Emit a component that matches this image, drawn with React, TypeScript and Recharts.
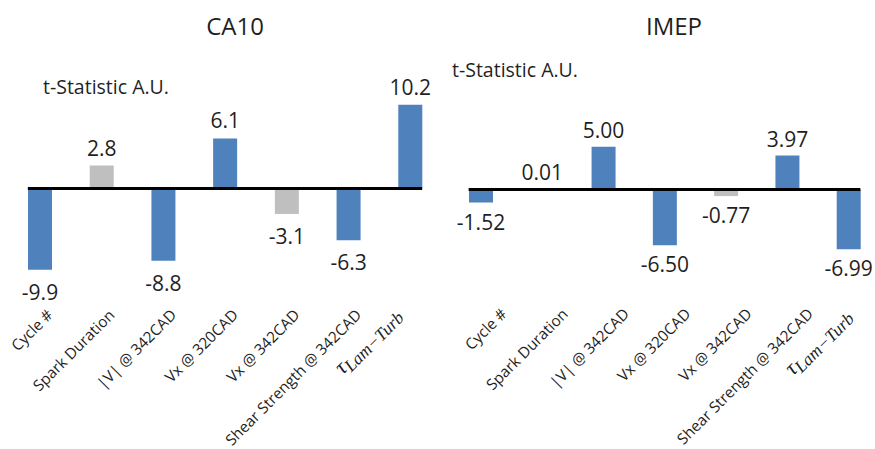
import React from 'react';
import { BarChart, Bar, XAxis, YAxis, Cell, LabelList, ReferenceLine } from 'recharts';

const categories = [
  'Cycle #',
  'Spark Duration',
  '|V| @ 342CAD',
  'Vx @ 320CAD',
  'Vx @ 342CAD',
  'Shear Strength @ 342CAD',
  'τLam−Turb',
];
const ca10Values = [-9.9, 2.8, -8.8, 6.1, -3.1, -6.3, 10.2];
const imepValues = [-1.52, 0.01, 5.0, -6.5, -0.77, 3.97, -6.99];
const ca10Significant = [true, false, true, true, false, true, true];
const imepSignificant = [true, false, true, true, false, true, true];
const chartTitles = ['CA10', 'IMEP'];
const axisTitle = 't-Statistic A.U.';

const FONT = "'Open Sans', sans-serif";
const BLUE = '#4F81BD';
const GRAY = '#BFBFBF';
const TEXT = '#1f1f1f';
const BAR_SIZE = 24;

const buildData = (values: number[], significant: boolean[]) =>
  categories.map((name, i) => ({ name, value: values[i], significant: significant[i] }));

const ca10Data = buildData(ca10Values, ca10Significant);
const imepData = buildData(imepValues, imepSignificant);

const makeTick = (dx: number, dy: number, tauDx: number, tauDy: number) => (props: any) => {
  const { x, y, payload } = props;
  const label: string = String(payload.value);
  const isTau = label.startsWith('τ');
  const ax = x + dx + (isTau ? tauDx : 0);
  const ay = y + dy + (isTau ? tauDy : 0);
  return (
    <text
      x={ax}
      y={ay}
      transform={`rotate(-45 ${ax} ${ay})`}
      textAnchor="end"
      fontFamily={FONT}
      fontSize={15.3}
      fill={TEXT}
    >
      {isTau ? (
        <>
          <tspan fontFamily="'Liberation Serif', serif" fontStyle="italic" fontSize={22}>
            τ
          </tspan>
          <tspan fontFamily="'Liberation Serif', serif" fontStyle="italic" fontSize={17.5} dy={4}>
            {label.slice(1)}
          </tspan>
        </>
      ) : (
        label
      )}
    </text>
  );
};

const makeValueLabel = (decimals: number, negOffset: number, posOffset: number) => (props: any) => {
  const { x, y, width, height, value } = props;
  const top = Math.min(y, y + height);
  const bottom = Math.max(y, y + height);
  const cx = x + width / 2;
  const ty = value >= 0 ? top - posOffset : bottom + negOffset;
  return (
    <text x={cx} y={ty} textAnchor="middle" fontFamily={FONT} fontSize={21} fill={TEXT}>
      {Number(value).toFixed(decimals)}
    </text>
  );
};

const zeroLineShape = (props: any) => {
  const { x1, y1, x2, y2 } = props;
  const half = BAR_SIZE / 2;
  return <line x1={x1 - half} y1={y1} x2={x2 + half} y2={y2} stroke="#000" strokeWidth={3} />;
};

type PanelProps = {
  data: { name: string; value: number; significant: boolean }[];
  left: number;
  width: number;
  margin: { top: number; right: number; bottom: number; left: number };
  domain: [number, number];
  decimals: number;
  tick: (p: any) => React.ReactElement;
  negOffset: number;
  posOffset: number;
};

const Panel = ({ data, left, width, margin, domain, decimals, tick, negOffset, posOffset }: PanelProps) => (
  <div style={{ position: 'absolute', left, top: 0 }}>
    <BarChart width={width} height={449} data={data} margin={margin} barSize={BAR_SIZE}>
      <XAxis
        dataKey="name"
        interval={0}
        axisLine={false}
        tickLine={false}
        tickSize={0}
        tickMargin={0}
        height={30}
        tick={tick}
      />
      <YAxis hide domain={domain} />
      <Bar dataKey="value" isAnimationActive={false}>
        {data.map((d, i) => (
          <Cell key={i} fill={d.significant ? BLUE : GRAY} />
        ))}
        <LabelList dataKey="value" content={makeValueLabel(decimals, negOffset, posOffset)} />
      </Bar>
      <ReferenceLine
        segment={[
          { x: categories[0], y: 0 },
          { x: categories[categories.length - 1], y: 0 },
        ]}
        shape={zeroLineShape}
      />
    </BarChart>
  </div>
);

export default function App() {
  return (
    <div
      style={{
        position: 'absolute',
        left: 0,
        top: 0,
        width: 875,
        height: 449,
        overflow: 'hidden',
        background: '#fff',
      }}
    >
      <Panel
        data={ca10Data}
        left={0}
        width={445}
        margin={{ top: 90, right: 4, bottom: 132, left: 9 }}
        domain={[-12, 12]}
        decimals={1}
        tick={makeTick(14, 29, -22, 0)}
        negOffset={30}
        posOffset={10}
      />
      <Panel
        data={imepData}
        left={440}
        width={440}
        margin={{ top: 121, right: 1, bottom: 161, left: 10 }}
        domain={[-8, 8]}
        decimals={2}
        tick={makeTick(27, 57, -23, 2)}
        negOffset={27}
        posOffset={9}
      />
      <svg
        width={875}
        height={449}
        style={{ position: 'absolute', left: 0, top: 0, pointerEvents: 'none' }}
      >
        <text x={235} y={35} textAnchor="middle" fontFamily={FONT} fontSize={24} fill={TEXT}>
          {chartTitles[0]}
        </text>
        <text x={674} y={35} textAnchor="middle" fontFamily={FONT} fontSize={24} fill={TEXT}>
          {chartTitles[1]}
        </text>
        <text x={43} y={94} fontFamily={FONT} fontSize={19.5} fill={TEXT}>
          {axisTitle}
        </text>
        <text x={452} y={77} fontFamily={FONT} fontSize={19.5} fill={TEXT}>
          {axisTitle}
        </text>
      </svg>
    </div>
  );
}
